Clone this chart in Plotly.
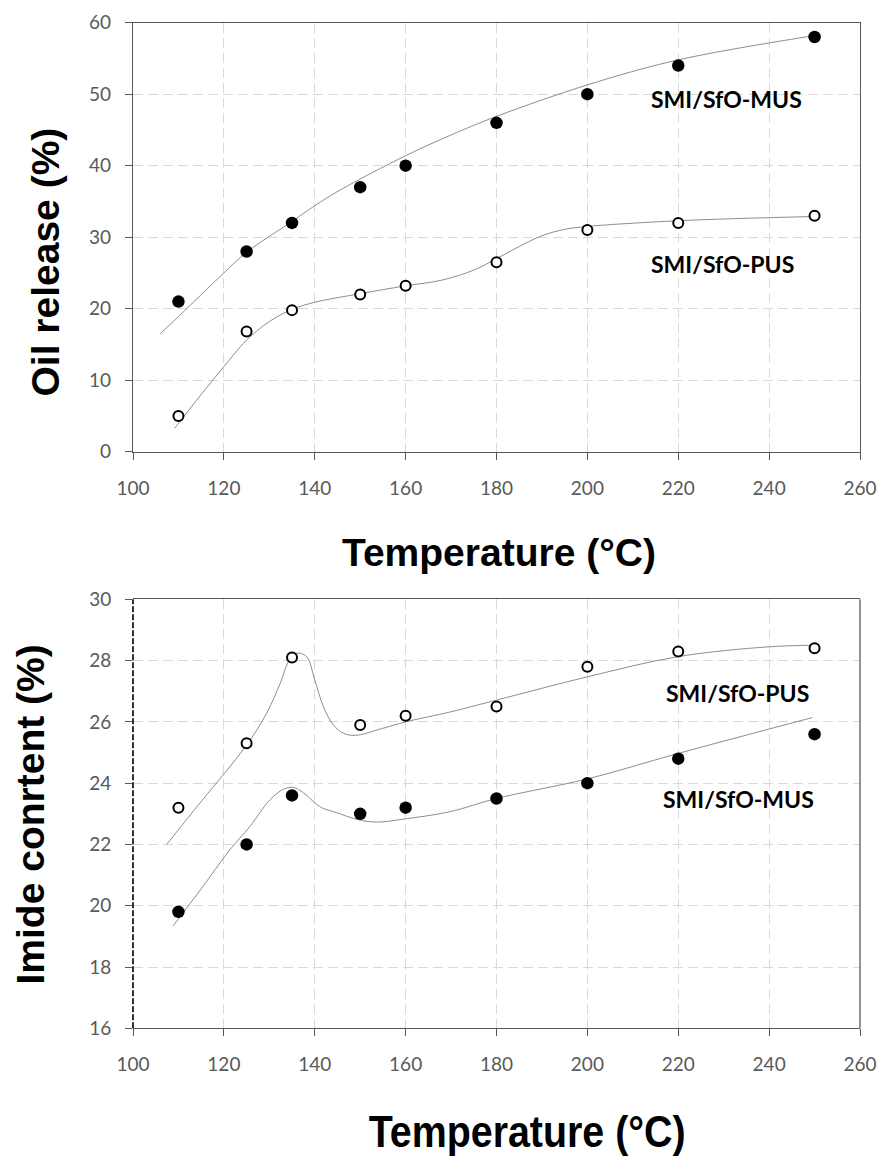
import plotly.graph_objects as go

# Measured data points
temperature = [110, 125, 135, 150, 160, 180, 200, 220, 250]
oil_mus = [21, 28, 32, 37, 40, 46, 50, 54, 58]
oil_pus = [5, 16.8, 19.8, 22, 23.2, 26.5, 31, 32, 33]
imide_pus = [23.2, 25.3, 28.1, 25.9, 26.2, 26.5, 27.8, 28.3, 28.4]
imide_mus = [19.8, 22.0, 23.6, 23.0, 23.2, 23.5, 24.0, 24.8, 25.6]

# Smoothed trend curves
oil_mus_fit_t = [106, 110, 120, 125, 135, 140, 145.6, 160, 170, 180, 200, 220, 250]
oil_mus_fit = [16.5, 18.9, 25.0, 27.9, 32.2, 34.4, 36.6, 41.4, 44.3, 46.9, 51.3, 54.8, 58.2]

oil_pus_fit_t = [109.2, 115, 120, 125, 130, 135, 140, 150, 160, 168, 175, 180, 185, 190, 195, 200, 220, 250]
oil_pus_fit = [3.3, 8.0, 11.9, 15.6, 18.2, 19.9, 20.9, 22.1, 23.2, 24.0, 25.4, 27.0, 28.7, 30.2, 31.1, 31.5, 32.3, 32.9]

imide_pus_fit_t = [107.4, 115, 120, 125, 129.4, 132.4, 134.2, 136.0, 138.2, 140.0, 141.9, 144.1,
                   146.3, 148.9, 155, 160, 170, 180, 200, 220, 240, 250]
imide_pus_fit = [22.0, 23.4, 24.3, 25.24, 26.28, 27.26, 27.96, 28.24, 28.13, 27.37, 26.5, 25.9,
                 25.63, 25.56, 25.79, 26.0, 26.33, 26.71, 27.47, 28.13, 28.45, 28.5]

imide_mus_fit_t = [108.8, 115, 121.3, 125.7, 130.1, 133.1, 135.3, 137.5, 139.7, 141.5, 144.8,
                   149.2, 153.6, 160.2, 169.8, 180, 200, 220, 249.5]
imide_mus_fit = [19.34, 20.55, 21.82, 22.58, 23.45, 23.8, 23.86, 23.69, 23.4, 23.2, 23.04,
                 22.82, 22.73, 22.84, 23.07, 23.5, 24.14, 24.97, 26.14]

W, H = 880, 1156
AXIS_COL = "#595959"
GRID_COL = "#d9d9d9"
TREND_COL = "#808080"
TICK_FONT = dict(family="Lato, Carlito, Calibri, sans-serif", size=19, color=AXIS_COL)
TITLE_FONT = dict(family="Liberation Sans, Arial, sans-serif", size=39, color="black")
LABEL_FONT = dict(family="Lato, Carlito, Calibri, sans-serif", size=23, color="black")

fig = go.Figure()


def add_series(xs, ys, fit_x, fit_y, filled, xa, ya):
    fig.add_trace(go.Scatter(
        x=fit_x, y=fit_y, mode="lines", xaxis=xa, yaxis=ya,
        line=dict(color=TREND_COL, width=0.9, shape="spline", smoothing=1),
        hoverinfo="skip", showlegend=False))
    if filled:
        marker = dict(size=12.5, color="black", line=dict(width=0))
    else:
        marker = dict(size=10, color="white", line=dict(width=2, color="black"))
    fig.add_trace(go.Scatter(x=xs, y=ys, mode="markers", xaxis=xa, yaxis=ya,
                             marker=marker, showlegend=False))


add_series(temperature, oil_mus, oil_mus_fit_t, oil_mus_fit, True, "x", "y")
add_series(temperature, oil_pus, oil_pus_fit_t, oil_pus_fit, False, "x", "y")
add_series(temperature, imide_pus, imide_pus_fit_t, imide_pus_fit, False, "x2", "y2")
add_series(temperature, imide_mus, imide_mus_fit_t, imide_mus_fit, True, "x2", "y2")

x_dom = [133 / W, 860 / W]
top_dom = [1 - 451.7 / H, 1 - 22.7 / H]
bot_dom = [1 - 1028.3 / H, 1 - 599.3 / H]

common_x = dict(range=[100, 260], tick0=100, dtick=20, ticks="outside", ticklen=7,
                tickcolor=AXIS_COL, tickwidth=1.2, showline=True, mirror=True,
                linecolor=AXIS_COL, linewidth=1.3, showgrid=True, gridcolor=GRID_COL,
                gridwidth=1.2, griddash="10px,5px", zeroline=False, tickfont=TICK_FONT,
                ticklabelstandoff=12, domain=x_dom, fixedrange=True, automargin=False)
common_y = dict(ticks="outside", ticklen=7, tickcolor=AXIS_COL, tickwidth=1.2,
                showgrid=True, gridcolor=GRID_COL, gridwidth=1.2, griddash="10px,5px",
                zeroline=False, tickfont=TICK_FONT, ticklabelstandoff=10, fixedrange=True,
                automargin=False)

fig.update_layout(
    width=W, height=H,
    margin=dict(l=0, r=0, t=0, b=0, pad=0, autoexpand=False),
    paper_bgcolor="white", plot_bgcolor="white",
    showlegend=False,
    xaxis=dict(anchor="y", **common_x),
    yaxis=dict(anchor="x", domain=top_dom, range=[0, 60], tick0=0, dtick=10,
               showline=True, mirror=True, linecolor=AXIS_COL, linewidth=1.3, **common_y),
    xaxis2=dict(anchor="y2", **common_x),
    yaxis2=dict(anchor="x2", domain=bot_dom, range=[16, 30], tick0=16, dtick=2,
                showline=False, **common_y),
)

# Frame sides of the lower panel: solid right edge, dashed left edge
fig.add_shape(type="line", xref="x2 domain", yref="y2 domain", x0=1, x1=1, y0=0, y1=1,
              line=dict(color=AXIS_COL, width=1.3))
fig.add_shape(type="line", xref="x2 domain", yref="y2 domain", x0=0, x1=0, y0=0, y1=1,
              line=dict(color="black", width=1.6, dash="6px,2px"))

annotations = [
    dict(text="<b>Oil release (%)</b>", x=45 / W, y=1 - 262.5 / H, textangle=-90,
         font=TITLE_FONT),
    dict(text="<b>Imide conrtent (%)</b>", x=30 / W, y=1 - 814.5 / H, textangle=-90,
         font=TITLE_FONT),
    dict(text="<b>Temperature (°C)</b>", x=498.5 / W, y=1 - 553 / H, font=TITLE_FONT),
    dict(text="<b>Temperature (°C)</b>", x=527 / W, y=1 - 1131 / H,
         font=dict(family="Liberation Sans, Arial, sans-serif", size=45, color="black")),
]
for a in annotations:
    a.update(xref="paper", yref="paper", xanchor="center", yanchor="middle",
             showarrow=False)
    fig.add_annotation(**a)

series_labels = [
    ("SMI/SfO-MUS", 230.7, 49.3, "x", "y"),
    ("SMI/SfO-PUS", 229.8, 26.26, "x", "y"),
    ("SMI/SfO-PUS", 233.1, 26.94, "x2", "y2"),
    ("SMI/SfO-MUS", 233.3, 23.49, "x2", "y2"),
]
for text, lx, ly, xr, yr in series_labels:
    fig.add_annotation(text="<b>" + text + "</b>", x=lx, y=ly, xref=xr, yref=yr,
                       showarrow=False, font=LABEL_FONT, xanchor="center",
                       yanchor="middle")

# The lower x-axis title is set in a horizontally condensed style
condense_js = """
var anns = document.querySelectorAll('g.annotation');
if (anns.length > 3) {
  var t = anns[3].querySelector('text.annotation-text');
  if (t) {
    t.style.transformBox = 'fill-box';
    t.style.transformOrigin = 'center';
    t.style.transform = 'scaleX(0.875)';
  }
}
"""

fig.write_html("out.html", post_script=condense_js)
